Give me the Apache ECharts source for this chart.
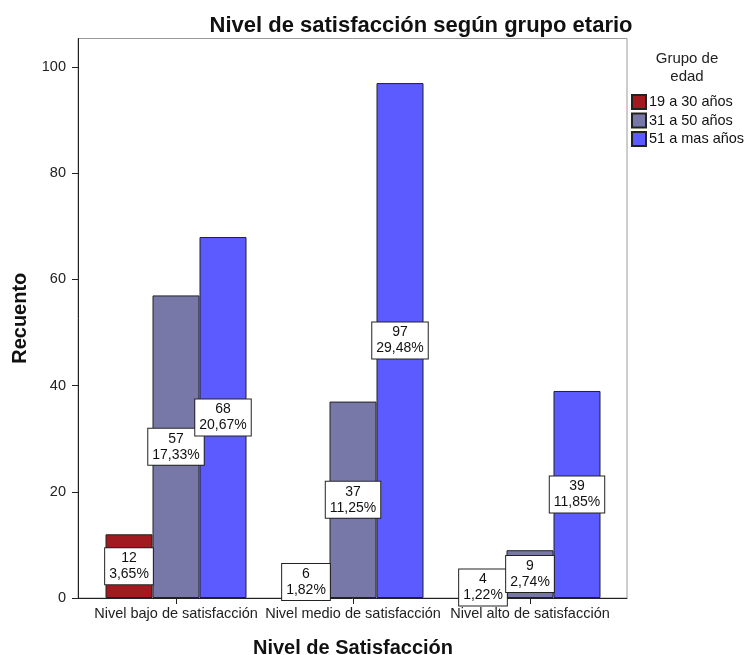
<!DOCTYPE html>
<html>
<head>
<meta charset="utf-8">
<script src="https://cdn.jsdelivr.net/npm/echarts@6/dist/echarts.min.js"></script>
<style>
html,body{margin:0;padding:0;background:#fff;}
#chart{width:744px;height:655px;}
</style>
</head>
<body>
<div id="chart"></div>
<script>
var categories = ['Nivel bajo de satisfacción', 'Nivel medio de satisfacción', 'Nivel alto de satisfacción'];
var seriesNames = ['19 a 30 años', '31 a 50 años', '51 a mas años'];
var counts19a30 = [12, 6, 4];
var counts31a50 = [57, 37, 9];
var counts51mas = [68, 97, 39];
var pct19a30 = ['3,65%', '1,82%', '1,22%'];
var pct31a50 = ['17,33%', '11,25%', '2,74%'];
var pct51mas = ['20,67%', '29,48%', '11,85%'];
var yTicks = [0, 20, 40, 60, 80, 100];
var colors = ['#A11A1F', '#7878A8', '#5B5BFF'];

var font = '"Liberation Sans", Arial, sans-serif';
var chart = echarts.init(document.getElementById('chart'), null, {renderer: 'canvas'});

function makeSeries(name, data, pcts, color) {
  return {
    name: name,
    type: 'bar',
    xAxisIndex: 0,
    yAxisIndex: 0,
    barWidth: 47,
    barGap: '0%',
    data: data,
    itemStyle: {color: color, borderColor: '#222', borderWidth: 1},
    label: {
      show: true,
      position: 'inside',
      formatter: function (p) { return p.value + '\n' + pcts[p.dataIndex]; },
      color: '#111',
      fontFamily: font,
      fontSize: 14,
      lineHeight: 16,
      backgroundColor: '#fff',
      borderColor: '#222',
      borderWidth: 1,
      padding: [2, 4, 2, 4]
    },
    emphasis: {disabled: true}
  };
}

var option = {
  animation: false,
  backgroundColor: '#fff',
  title: [
    {
      text: 'Nivel de satisfacción según grupo etario',
      left: 416, top: 10, textAlign: 'center',
      textStyle: {fontFamily: font, fontSize: 22, fontWeight: 'bold', color: '#111'}
    },
    {
      text: 'Grupo de\nedad',
      left: 682, top: 45, textAlign: 'center',
      textStyle: {fontFamily: font, fontSize: 15, fontWeight: 'normal', color: '#222', lineHeight: 18}
    }
  ],
  legend: {
    orient: 'vertical',
    left: 631, top: 94,
    itemWidth: 14, itemHeight: 14, itemGap: 2.5,
    icon: 'rect',
    padding: 0,
    textStyle: {fontFamily: font, fontSize: 14.5, lineHeight: 14, color: '#111', padding: [0, 0, 0, -2]},
    data: seriesNames
  },
  grid: [
    {left: 87.5, top: 38.5, width: 531, height: 559.5, outerBoundsMode: 'none', containLabel: false},
    {left: 78, top: 38.5, width: 549, height: 559.5, outerBoundsMode: 'none', show: true, borderColor: '#9a9a9a', borderWidth: 1, backgroundColor: 'transparent', z: 0}
  ],
  xAxis: [
    {
      type: 'category', gridIndex: 0, data: categories,
      axisLine: {show: false},
      axisTick: {show: true, alignWithLabel: true, length: 6, lineStyle: {color: '#222'}},
      axisLabel: {interval: 0, margin: 8, fontFamily: font, fontSize: 14.5, color: '#222'},
      name: 'Nivel de Satisfacción', nameLocation: 'middle', nameGap: 40,
      nameTextStyle: {fontFamily: font, fontSize: 20, fontWeight: 'bold', color: '#111'}
    },
    {
      type: 'value', gridIndex: 1, min: 0, max: 1,
      axisLine: {show: true, lineStyle: {color: '#222', width: 1}},
      axisTick: {show: false}, axisLabel: {show: false}, splitLine: {show: false}
    }
  ],
  yAxis: [
    {
      type: 'value', gridIndex: 0, min: 0, max: 105.4, interval: 20,
      offset: 9.5,
      axisLine: {show: true, lineStyle: {color: '#222', width: 1}},
      axisTick: {show: true, length: 6, lineStyle: {color: '#222'}},
      axisLabel: {margin: 12, showMaxLabel: false, fontFamily: font, fontSize: 14.5, color: '#222',
        formatter: function (v) { return yTicks.indexOf(v) >= 0 ? String(v) : ''; }},
      splitLine: {show: false},
      name: 'Recuento', nameLocation: 'middle', nameGap: 43, nameRotate: 90,
      nameTextStyle: {fontFamily: font, fontSize: 20, fontWeight: 'bold', color: '#111'}
    },
    {
      type: 'value', gridIndex: 1, min: 0, max: 1, show: false
    }
  ],
  series: [
    makeSeries(seriesNames[0], counts19a30, pct19a30, colors[0]),
    makeSeries(seriesNames[1], counts31a50, pct31a50, colors[1]),
    makeSeries(seriesNames[2], counts51mas, pct51mas, colors[2])
  ]
};
chart.setOption(option);
</script>
</body>
</html>
